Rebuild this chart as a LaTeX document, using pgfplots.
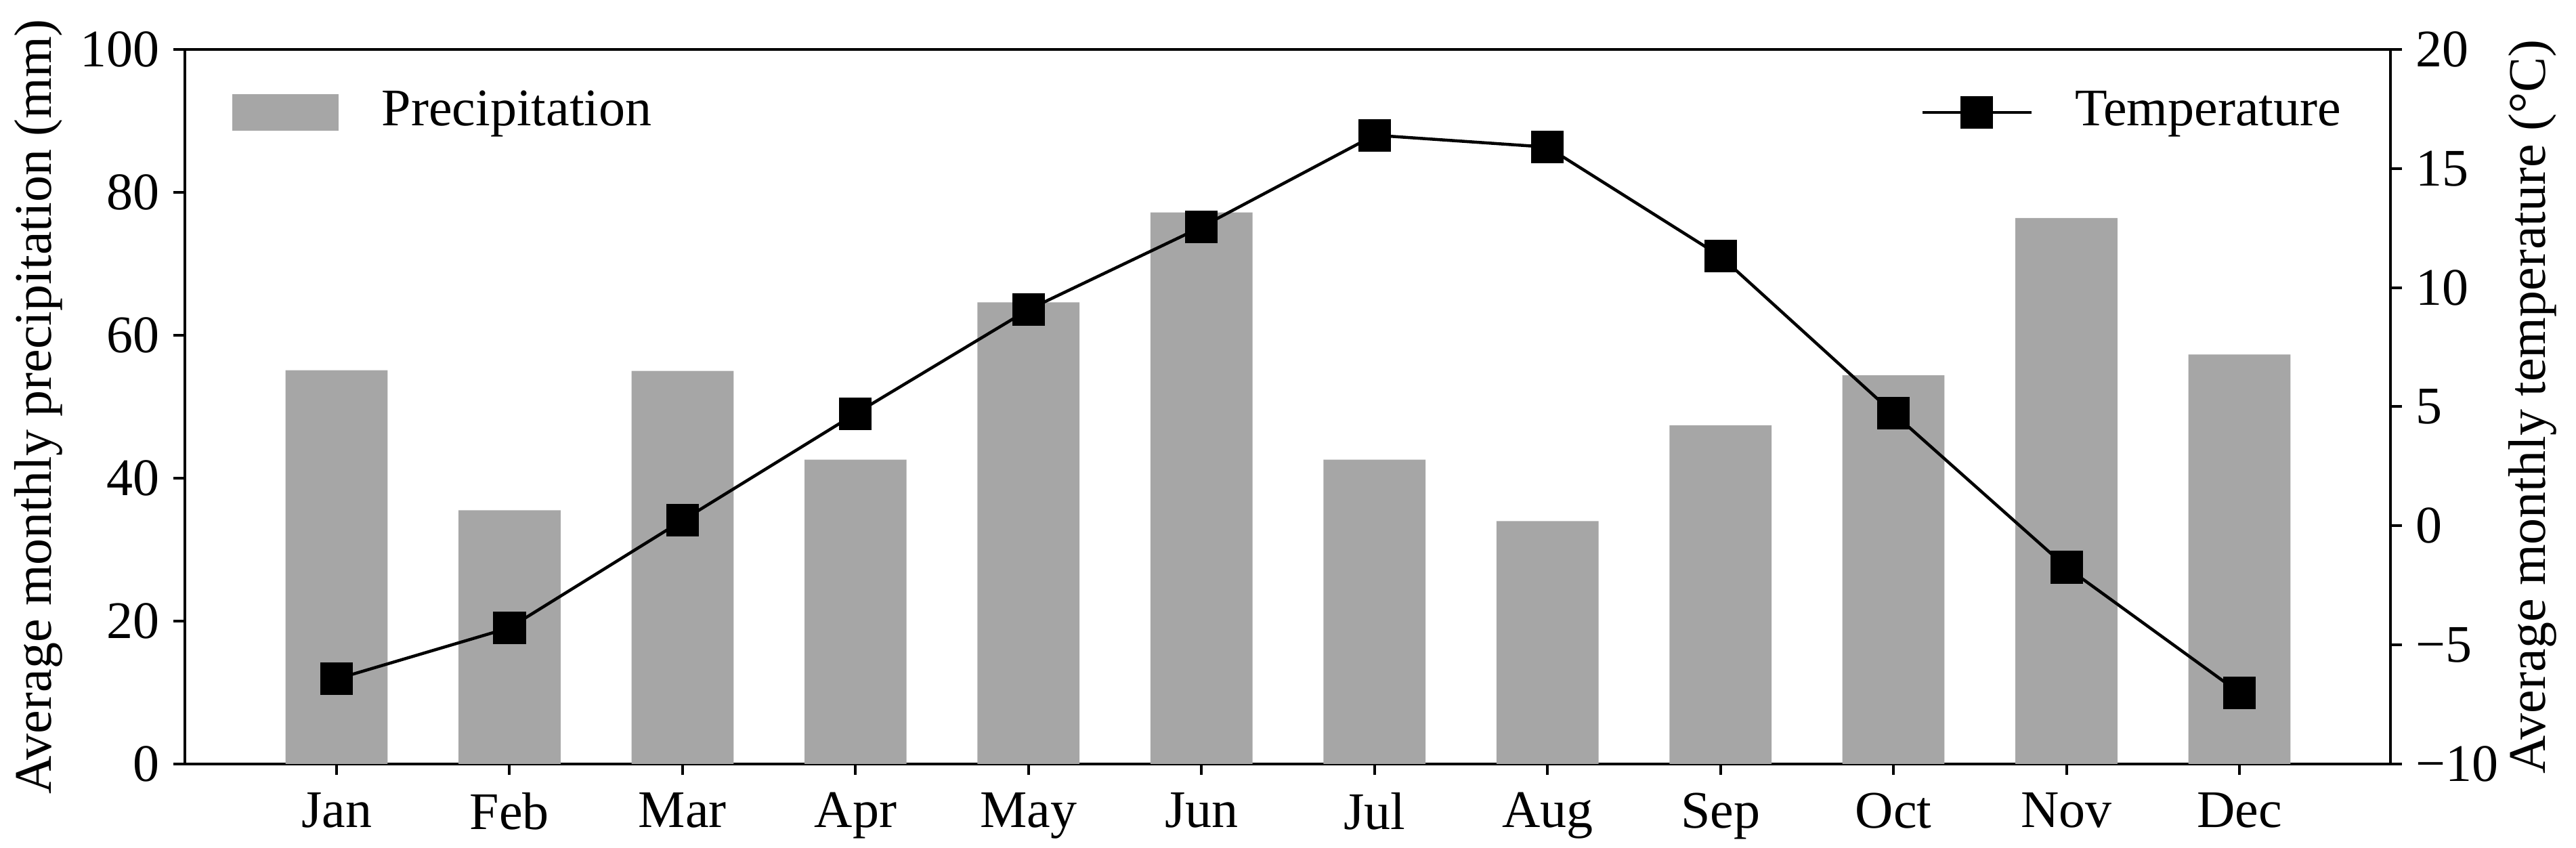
\documentclass[border=0pt]{standalone}
\usepackage{pgfplots}
\pgfplotsset{compat=1.18}
\usepackage{fontspec}
\setmainfont{Liberation Serif}
\definecolor{barc}{RGB}{166,166,166}
\newcommand{\chartfont}{\fontsize{7.8}{9.4}\selectfont}
\pgfplotsset{
  templegend/.style={legend image code/.code={\draw[##1, mark repeat=2, mark phase=2] plot coordinates {(0pt,0pt) (8.05pt,0pt) (16.1pt,0pt)};}},
  barlegend/.style={legend image code/.code={\fill[barc] (0pt,-2.7pt) rectangle (15.7pt,2.7pt);}},
}
\begin{document}
\chartfont
\begin{tikzpicture}
\path[use as bounding box] (-27.3pt,-12.4pt) rectangle (353.1pt,112.8pt);
\begin{axis}[
  at={(0pt,0pt)}, anchor=south west,
  scale only axis, width=325.7pt, height=105.5pt,
  xmin=-0.877, xmax=11.873, ymin=0, ymax=100,
  xtick={0,1,2,3,4,5,6,7,8,9,10,11},
  xticklabels={Jan,Feb,Mar,Apr,May,Jun,Jul,Aug,Sep,Oct,Nov,Dec},
  ytick={0,20,40,60,80,100},
  xtick pos=bottom, ytick pos=left,
  tick align=outside,
  major tick length=1.65pt,
  axis line style={line width=0.4pt},
  every tick/.style={black, line width=0.4pt},
  /pgf/number format/assume math mode=true,
  tick label style={font=\chartfont},
  xticklabel style={yshift=0.2pt},
  yticklabel style={xshift=0.7pt},
  ylabel={Average monthly precipitation (mm)},
  ylabel style={at={(axis description cs:-0.0665,0.5)}, anchor=center, font=\chartfont},
  legend style={at={(axis description cs:0,0.9118)}, anchor=west, xshift=6.8pt,
    draw=none, fill=none, inner sep=0pt, font=\chartfont,
    nodes={inner sep=0pt}, /tikz/column sep=6.4pt},
  legend cell align=left,
]
\addplot[ybar, bar width=0.59, bar shift=0pt, fill=barc, draw=none, barlegend]
  coordinates {(0,55.1) (1,35.5) (2,55.0) (3,42.6) (4,64.6) (5,77.2) (6,42.6) (7,34.0) (8,47.4) (9,54.4) (10,76.4) (11,57.3)};
\addlegendentry{Precipitation}
\end{axis}
\begin{axis}[
  at={(0pt,0pt)}, anchor=south west,
  scale only axis, width=325.7pt, height=105.5pt,
  xmin=-0.877, xmax=11.873, ymin=-10, ymax=20,
  axis x line=none, axis y line*=right,
  ytick={-10,-5,0,5,10,15,20},
  yticklabels={−10,−5,0,5,10,15,20},
  tick align=outside,
  major tick length=1.65pt,
  axis line style={line width=0.4pt},
  every tick/.style={black, line width=0.4pt},
  tick label style={font=\chartfont},
  yticklabel style={xshift=-0.75pt},
  ylabel={Average monthly temperature (°C)},
  ylabel style={at={(axis description cs:1.0645,0.5)}, anchor=center, font=\chartfont},
  legend style={at={(axis description cs:1,0.9118)}, anchor=east, xshift=-7.1pt,
    draw=none, fill=none, inner sep=0pt, font=\chartfont,
    nodes={inner sep=0pt}, /tikz/column sep=6.2pt},
  legend cell align=left,
]
\addplot[black, line width=0.45pt, mark=square*, mark size=2.18pt, templegend]
  coordinates {(0,-6.43) (1,-4.28) (2,0.23) (3,4.71) (4,9.08) (5,12.55) (6,16.4) (7,15.9) (8,11.32) (9,4.72) (10,-1.74) (11,-7.01)};
\addlegendentry{Temperature}
\end{axis}
\end{tikzpicture}
\end{document}
